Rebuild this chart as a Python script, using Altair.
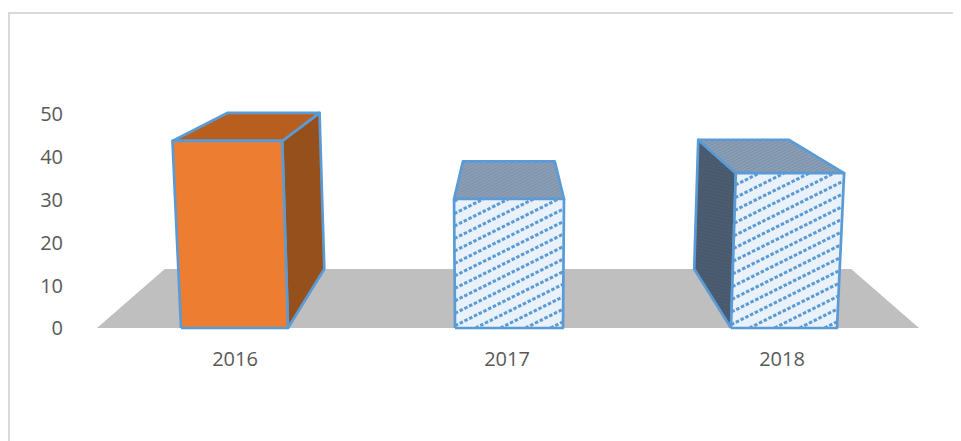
import altair as alt
import pandas as pd

years = ["2016", "2017", "2018"]
values = [43.5, 30, 36]
base_left = [-327, -53, 223]
base_right = [-220, 55, 329]
label_x = [-273, -1, 274]
y_ticks = [0, 10, 20, 30, 40, 50]

FLOOR_HALF = 411
DEPTH = 0.835
SKEW = 0.0006
BACK = 59 / 4.3
XDOM = [-500, 445]
YDOM = [-26.28, 73.49]
PXY = 4.3
W = 945
H = 429

FONT = "Open Sans"
TEXT = "#595959"
EDGE = "#5b9bd5"
x_s = alt.Scale(domain=XDOM, range=[0, W], nice=False, zero=False)
y_s = alt.Scale(domain=YDOM, range=[H, 0], nice=False, zero=False)


def P(X, d, v):
    s = DEPTH if d else 1.0
    return (X * s * (1 + SKEW * v), BACK * d + v * s)


def poly(pts, fill, stroke=None, sw=2.7):
    rows = [{"i": i, "x": p[0], "y": p[1]} for i, p in enumerate(list(pts) + [pts[0]])]
    kw = dict(fill=fill, strokeJoin="round")
    if stroke:
        kw.update(stroke=stroke, strokeWidth=sw)
    else:
        kw.update(stroke=fill, strokeWidth=0.01)
    return alt.Chart(pd.DataFrame(rows)).mark_line(**kw).encode(
        x=alt.X("x:Q", scale=x_s, axis=None),
        y=alt.Y("y:Q", scale=y_s, axis=None),
        order=alt.Order("i:Q"),
    )


def clip(pts, slope, c):
    n = len(pts)
    hits = []
    for k in range(n):
        a, b = pts[k], pts[(k + 1) % n]
        fa = a[1] * PXY - slope * a[0] - c
        fb = b[1] * PXY - slope * b[0] - c
        if (fa <= 0 < fb) or (fb <= 0 < fa):
            t = fa / (fa - fb)
            hits.append((a[0] + t * (b[0] - a[0]), a[1] + t * (b[1] - a[1])))
    return sorted(hits)[:2] if len(hits) >= 2 else None


def hatch(pts, slope, spacing, color, sw, dash=None, opacity=1.0):
    cs = [p[1] * PXY - slope * p[0] for p in pts]
    rows = []
    c = min(cs) + spacing / 2
    j = 0
    while c < max(cs):
        seg = clip(pts, slope, c)
        if seg:
            rows.append({"j": j, "i": 0, "x": seg[0][0], "y": seg[0][1]})
            rows.append({"j": j, "i": 1, "x": seg[1][0], "y": seg[1][1]})
        c += spacing
        j += 1
    kw = dict(stroke=color, strokeWidth=sw, opacity=opacity)
    if dash:
        kw["strokeDash"] = dash
    return alt.Chart(pd.DataFrame(rows)).mark_line(**kw).encode(
        x=alt.X("x:Q", scale=x_s, axis=None),
        y=alt.Y("y:Q", scale=y_s, axis=None),
        detail="j:N",
        order=alt.Order("i:Q"),
    )


layers = []

# frame
frame = pd.DataFrame({"a": [0]})
layers.append(alt.Chart(frame).mark_rule(color="#d9d9d9", strokeWidth=2).encode(
    x=alt.value(1), y=alt.value(0), y2=alt.value(H)))
layers.append(alt.Chart(frame).mark_rule(color="#d9d9d9", strokeWidth=2).encode(
    x=alt.value(0), x2=alt.value(W), y=alt.value(1)))

# floor
floor_pts = [P(-FLOOR_HALF, 0, 0), P(FLOOR_HALF, 0, 0), P(FLOOR_HALF, 1, 0), P(-FLOOR_HALF, 1, 0)]
layers.append(poly(floor_pts, "#bfbfbf"))

for k in range(3):
    L, R, v = base_left[k], base_right[k], values[k]
    front = [P(L, 0, 0), P(R, 0, 0), P(R, 0, v), P(L, 0, v)]
    top = [P(L, 0, v), P(R, 0, v), P(R, 1, v), P(L, 1, v)]
    if k == 0:
        side = [P(R, 0, 0), P(R, 1, 0), P(R, 1, v), P(R, 0, v)]
        layers.append(poly(side, "#96501c", EDGE))
        layers.append(poly(top, "#b85f20", EDGE))
        layers.append(poly(front, "#ed7d31", EDGE))
    else:
        if k == 2:
            side = [P(L, 0, 0), P(L, 1, 0), P(L, 1, v), P(L, 0, v)]
            layers.append(poly(side, "#3c4858"))
            layers.append(hatch(side, 3.0, 3.2, "#566a80", 1, opacity=0.7))
            layers.append(poly(side, "transparent", EDGE))
        layers.append(poly(top, "#8d9eb2"))
        layers.append(hatch(top, 0.5, 3.0, "#6f8db0", 1, opacity=0.7))
        layers.append(poly(top, "transparent", EDGE))
        layers.append(poly(front, "#e9f1fb"))
        layers.append(hatch(front, 0.5, 12.5, EDGE, 3, dash=[3.5, 1.8]))
        layers.append(poly(front, "transparent", EDGE))

# y tick labels
ticks = pd.DataFrame({"v": y_ticks, "x": [-445] * len(y_ticks)})
layers.append(alt.Chart(ticks).mark_text(
    font=FONT, fontSize=20, color=TEXT, align="right", dy=1.5).encode(
    x=alt.X("x:Q", scale=x_s, axis=None),
    y=alt.Y("v:Q", scale=y_s, axis=None),
    text=alt.Text("v:Q", format="d"),
))

# category labels
lab = pd.DataFrame({"year": years, "x": label_x, "y": [-7.5] * 3})
layers.append(alt.Chart(lab).mark_text(font=FONT, fontSize=20, color=TEXT).encode(
    x=alt.X("x:Q", scale=x_s, axis=None),
    y=alt.Y("y:Q", scale=y_s, axis=None),
    text="year:N",
))

chart = alt.layer(*layers).properties(
    width=W, height=H,
    autosize=alt.AutoSizeParams(type="none"),
    padding={"left": 0, "top": 4, "right": 0, "bottom": 0},
    background="white",
).configure_view(stroke=None)

chart.save("out.html", embed_options={"renderer": "svg", "actions": False})
